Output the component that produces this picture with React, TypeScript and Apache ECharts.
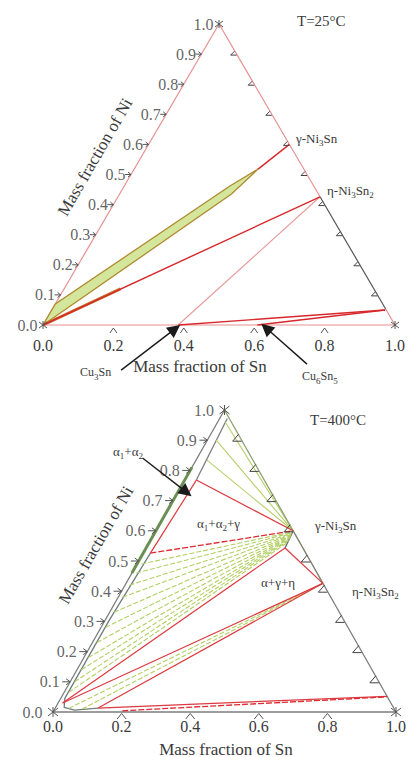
import React, { useEffect, useRef } from "react";
import * as echarts from "echarts";

// ---------- data (ternary compositions: [Sn mass fraction, Ni mass fraction]) ----------
const snTicks = [0, 0.2, 0.4, 0.6, 0.8, 1.0];
const innerSnTicks = [0.2, 0.4, 0.6, 0.8];
const niTicks = [0, 0.1, 0.2, 0.3, 0.4, 0.5, 0.6, 0.7, 0.8, 0.9, 1.0];
const rightNiTicks = [0.1, 0.2, 0.3, 0.4, 0.5, 0.6, 0.7, 0.8, 0.9];
const corners = [[0, 0], [1, 0], [0, 1]];

const GAMMA = [0.4, 0.6]; // γ-Ni3Sn
const ETA = [0.574, 0.426]; // η-Ni3Sn2
const CU3SN = [0.384, 0];
const CU6SN5 = [0.609, 0];

// T = 25 °C
const t25PinkEdges = [
  [[0, 0], [1, 0]],
  [[0, 0], [0, 1]],
  [[0, 1], ETA],
  [[0.947, 0.053], [1, 0]],
];
const t25DarkEdge = [ETA, [0.947, 0.053]];
const t25Band = [[0, 0], [0, 0.07], [0.3, 0.462], [0.352, 0.518], [0.318, 0.435]];
const t25RedLines = [
  [[0.352, 0.518], GAMMA],
  [[0, 0], ETA],
  [CU3SN, [0.947, 0.05]],
  [CU6SN5, [0.947, 0.05]],
];
const t25OrangeLines = [[[0, 0], [0.16, 0.12]]];
const t25PinkLines = [[CU3SN, ETA]];

// T = 400 °C
const ALPHA1 = [0.034, 0.768];
const ALPHA2 = [0.021, 0.526];
const ALPHA3 = [0.013, 0.03];
const GAMMA2 = [0.405, 0.543];
const t400GrayEdges = [
  [[0, 0], [1, 0]],
  [[0, 0], [0, 1]],
  [GAMMA, [1, 0]],
];
const t400GreenEdge = [[0, 1], GAMMA];
const t400GreenThick = [[0, 0.46], [0, 0.81]];
const t400AlphaUpper = [[0.022, 0.972], ALPHA1];
const t400AlphaLower = [[0.125, 0.013], [0.06, 0.006], [0.025, 0.015], [0.012, 0.045], [0.012, 0.3], ALPHA2];
const t400GammaSide = [GAMMA, GAMMA2];
const t400RedLines = [
  [ALPHA1, ALPHA2],
  [ALPHA1, GAMMA],
  [ALPHA3, GAMMA2],
  [GAMMA2, ETA],
  [ALPHA3, ETA],
  [[0.125, 0.013], ETA],
  [[0.125, 0.013], [0.948, 0.052]],
];
const t400RedDashed = [
  [ALPHA2, GAMMA],
  [[0.2, 0.004], [0.948, 0.05]],
];
const t400GreenUpperTies = [
  [[0.022, 0.96], GAMMA],
  [[0.026, 0.9], GAMMA],
  [[0.032, 0.834], GAMMA],
  [GAMMA, ETA],
];
const t400TieLeftNi = [0.49, 0.46, 0.42, 0.38, 0.33, 0.28, 0.23, 0.18, 0.14, 0.1, 0.065];
const t400TieRightNi = [0.597, 0.594, 0.591, 0.588, 0.585, 0.582, 0.579, 0.576, 0.572, 0.568, 0.562];
const t400EtaTiesStart = [[0.04, 0.012], [0.08, 0.01]];

// annotation arrows in the chart plane ([x, y] of each grid)
const arrowsTop = [
  [[0.222, -0.15], [0.375, -0.013]],
  [[0.75, -0.13], [0.634, -0.01]],
];
const arrowsBottom = [[[0.261, 0.841], [0.389, 0.728]]];

// ---------- helpers ----------
const toXY = (p: number[]) => [p[0] + p[1] / 2, p[1]];
const SERIF = "Liberation Serif";
const TXT = "#3a3a3a";

// tick glyphs, pixel offsets from the tick point
const CHEV_S = [[[-3.5, 8], [0, 3], [3.5, 8]]];
const CHEV_L = [[[-4.5, 7], [0, 1.5], [4.5, 7]]];
const LT_S = [[[-6, 0], [0, 0]], [[-3, -2.5], [0, 0], [-3, 2.5]]];
const LT_L = [[[-8, 0], [0, 0]], [[-4, -3], [0, 0], [-4, 3]]];
const RT_S = [[[-2, -3], [-6, 1], [0, 1]]];
const RT_L = [[[-3, -6], [-9, 1], [0, 1]]];
const STAR_S = [[[-4, -3], [4, 3]], [[-4, 3], [4, -3]], [[0, -4], [0, 4]]];
const STAR_L = [[[-5, -4], [5, 4]], [[-5, 4], [5, -4]], [[0, -5], [0, 5]]];

export default function App() {
  const ref = useRef<HTMLDivElement>(null);
  useEffect(() => {
    if (!ref.current) return;
    const chart = echarts.init(ref.current, undefined, { renderer: "svg" });
    const series: any[] = [];
    const addLine = (g: number, pts: number[][], color: string, width = 1, type: any = "solid", z = 2) =>
      series.push({
        type: "line",
        xAxisIndex: g,
        yAxisIndex: g,
        data: pts.map(toXY),
        showSymbol: false,
        symbol: "none",
        silent: true,
        clip: false,
        z,
        lineStyle: { color, width, type },
      });
    const addTicks = (g: number, pts: number[][], glyph: number[][][], color: string, w = 1) =>
      series.push({
        type: "custom",
        xAxisIndex: g,
        yAxisIndex: g,
        data: pts.map(toXY),
        silent: true,
        clip: false,
        z: 6,
        renderItem: (params: any, api: any) => {
          const c = api.coord([api.value(0), api.value(1)]);
          return {
            type: "group",
            children: glyph.map((poly) => ({
              type: "polyline",
              shape: { points: poly.map((q) => [c[0] + q[0], c[1] + q[1]]) },
              style: { stroke: color, lineWidth: w, fill: null },
            })),
          };
        },
      });
    const addLeftLabels = (g: number, dist: number) =>
      series.push({
        type: "scatter",
        xAxisIndex: g,
        yAxisIndex: g,
        data: niTicks.map((n) => toXY([0, n])),
        symbolSize: 1,
        silent: true,
        clip: false,
        z: 7,
        itemStyle: { color: "rgba(0,0,0,0)" },
        label: {
          show: true,
          position: "left",
          distance: dist,
          formatter: (p: any) => niTicks[p.dataIndex].toFixed(1),
          fontFamily: SERIF,
          fontSize: 16,
          color: TXT,
        },
      });
    const addArrows = (g: number, arr: number[][][]) =>
      series.push({
        type: "lines",
        coordinateSystem: "cartesian2d",
        xAxisIndex: g,
        yAxisIndex: g,
        data: arr.map((a) => ({ coords: a })),
        symbol: ["none", "triangle"],
        symbolSize: [0, 13],
        clip: false,
        silent: true,
        z: 8,
        lineStyle: { color: "#1a1a1a", width: 1.4, opacity: 1 },
      });

    // ----- top chart (grid 0) -----
    series.push({
      type: "custom",
      xAxisIndex: 0,
      yAxisIndex: 0,
      data: [[0, 0]],
      clip: false,
      silent: true,
      z: 3,
      renderItem: (params: any, api: any) => ({
        type: "polygon",
        shape: { points: t25Band.map((p) => api.coord(toXY(p))) },
        style: { fill: "#d4e69c", stroke: "#b08a30", lineWidth: 1.3 },
      }),
    });
    t25PinkEdges.forEach((s) => addLine(0, s, "#e89090", 1.2));
    addLine(0, t25DarkEdge, "#555555", 1.2);
    t25PinkLines.forEach((s) => addLine(0, s, "#e99a9a", 1.1));
    t25OrangeLines.forEach((s) => addLine(0, s, "#c07a2a", 3, "solid", 3));
    t25RedLines.forEach((s) => addLine(0, s, "#d8282c", 1.4, "solid", 4));
    addTicks(0, innerSnTicks.map((s) => [s, 0]), CHEV_S, "#555");
    addTicks(0, corners, STAR_S, "#555");
    addTicks(0, niTicks.slice(1, 10).map((n) => [0, n]), LT_S, "#555");
    addTicks(0, rightNiTicks.map((n) => [1 - n, n]), RT_S, "#444");
    addLeftLabels(0, 5);
    addArrows(0, arrowsTop);

    // ----- bottom chart (grid 1) -----
    addLine(1, t400GreenThick, "#5aa030", 3, "solid", 2);
    t400GrayEdges.forEach((s) => addLine(1, s, "#7d7d7d", 1.3, "solid", 3));
    addLine(1, t400GreenEdge, "#8aa070", 1.3, "solid", 3);
    addLine(1, t400AlphaUpper, "#7d7d7d", 1.3);
    addLine(1, t400AlphaLower, "#6d7d7d", 1.3);
    addLine(1, t400GammaSide, "#6d6d6d", 1.5);
    t400GreenUpperTies.forEach((s) => addLine(1, s, "#b5d06a", 1.1));
    t400TieLeftNi.forEach((n, i) =>
      addLine(1, [[0.013, n], [0.4 + (0.6 - t400TieRightNi[i]) * 0.09, t400TieRightNi[i]]], "#b2cf62", 1.1, [5, 2])
    );
    t400EtaTiesStart.forEach((p) => addLine(1, [p, ETA], "#b2cf62", 1.1, [5, 2]));
    t400RedLines.forEach((s) => addLine(1, s, "#dc3a40", 1.2, "solid", 4));
    t400RedDashed.forEach((s) => addLine(1, s, "#dc2a30", 1.3, [6, 2], 4));
    addTicks(1, innerSnTicks.map((s) => [s, 0]), CHEV_L, "#555");
    addTicks(1, corners, STAR_L, "#555");
    addTicks(1, niTicks.slice(1, 10).map((n) => [0, n]), LT_L, "#555");
    addTicks(1, rightNiTicks.map((n) => [1 - n, n]), RT_L, "#444");
    addLeftLabels(1, 10);
    addArrows(1, arrowsBottom);

    const xAx = (g: number, margin: number) => ({
      type: "value",
      gridIndex: g,
      min: 0,
      max: 1,
      interval: 0.2,
      axisLine: { show: false },
      axisTick: { show: false },
      splitLine: { show: false },
      axisLabel: {
        margin,
        formatter: (v: number) => snTicks.find((t) => Math.abs(t - v) < 1e-6)!.toFixed(1),
        fontFamily: SERIF,
        fontSize: 16,
        color: TXT,
      },
    });
    const yAx = (g: number) => ({ type: "value", gridIndex: g, min: 0, max: 1, show: false });

    const sub = { fontFamily: SERIF, fontSize: 9, color: TXT, verticalAlign: "bottom", lineHeight: 10 };
    const norm = (fs: number) => ({ fontFamily: SERIF, fontSize: fs, color: TXT, lineHeight: 18 });
    const txt = (x: number, y: number, text: string, fs: number, align = "left", rotation = 0) => ({
      type: "text",
      x,
      y,
      rotation,
      style: {
        text,
        align,
        verticalAlign: "middle",
        fill: TXT,
        fontFamily: SERIF,
        fontSize: fs,
        rich: { a: norm(fs), s: sub },
      },
      z: 20,
    });

    chart.setOption({
      animation: false,
      textStyle: { fontFamily: SERIF },
      grid: [
        { left: 43, top: 24, width: 352, height: 301 },
        { left: 53, top: 410, width: 352, height: 302 },
      ],
      xAxis: [xAx(0, 12), xAx(1, 6)],
      yAxis: [yAx(0), yAx(1)],
      series,
      graphic: [
        txt(297, 21, "T=25°C", 15),
        txt(296, 138, "{a|γ-Ni}{s|3}{a|Sn}", 13),
        txt(327, 190, "{a|η-Ni}{s|3}{a|Sn}{s|2}", 13),
        txt(80, 372, "{a|Cu}{s|3}{a|Sn}", 12),
        txt(302, 376, "{a|Cu}{s|6}{a|Sn}{s|5}", 12),
        txt(200, 366, "Mass fraction of Sn", 17, "center"),
        txt(95, 157, "Mass fraction of Ni", 17, "center", Math.PI / 3),
        txt(310, 420, "T=400°C", 15),
        txt(113, 451, "{a|α}{s|1}{a|+α}{s|2}", 13),
        txt(197, 523, "{a|α}{s|1}{a|+α}{s|2}{a|+γ}", 13),
        txt(261, 582, "α+γ+η", 13),
        txt(315, 525, "{a|γ-Ni}{s|3}{a|Sn}", 13),
        txt(352, 591, "{a|η-Ni}{s|3}{a|Sn}{s|2}", 13),
        txt(226, 749, "Mass fraction of Sn", 17, "center"),
        txt(96, 545, "Mass fraction of Ni", 17, "center", Math.PI / 3),
      ],
    });
    return () => chart.dispose();
  }, []);
  return <div ref={ref} style={{ position: "absolute", left: 0, top: 0, width: 409, height: 757 }} />;
}
